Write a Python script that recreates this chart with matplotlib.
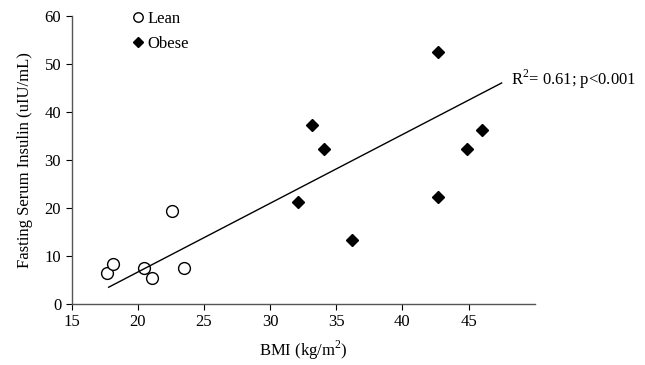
import numpy as np
import matplotlib
matplotlib.use('Agg')
import matplotlib.pyplot as plt

plt.rcParams['font.family'] = 'Liberation Serif'
plt.rcParams['mathtext.fontset'] = 'custom'
plt.rcParams['mathtext.rm'] = 'Liberation Serif'

# values
lean_bmi = [17.7, 18.1, 20.5, 21.1, 22.6, 23.5]
lean_ins = [6.5, 8.4, 7.4, 5.5, 19.4, 7.4]
obese_bmi = [32.1, 33.2, 34.1, 36.2, 42.7, 42.7, 44.9, 46.0]
obese_ins = [21.3, 37.3, 32.3, 13.3, 52.5, 22.3, 32.3, 36.3]
fit_x = [17.8, 47.5]
fit_y = [3.5, 46.0]
x_ticks = [15, 20, 25, 30, 35, 40, 45]
y_ticks = [0, 10, 20, 30, 40, 50, 60]

fig = plt.figure(figsize=(6.45, 3.65), dpi=100)
ax = fig.add_axes([0.111, 0.167, 0.718, 0.790])

ax.plot(lean_bmi, lean_ins, 'o', ms=8.5, mfc='white', mec='black', mew=1.0,
        label='Lean', clip_on=False)
ax.plot(obese_bmi, obese_ins, 'D', ms=6.5, mfc='black', mec='black',
        label='Obese', clip_on=False)
ax.plot(fit_x, fit_y, '-', color='black', lw=1.0)

ax.text(48.2, 46.7, r'R$^2$= 0.61; p<0.001', fontsize=12, va='center', ha='left')

ax.set_xlim(15, 50)
ax.set_ylim(0, 60)
ax.set_xticks(x_ticks)
ax.set_yticks(y_ticks)
for s in ['top', 'right']:
    ax.spines[s].set_visible(False)
for s in ['left', 'bottom']:
    ax.spines[s].set_color('#555555')
    ax.spines[s].set_linewidth(1.0)
ax.tick_params(direction='out', length=4, width=0.8, colors='black', labelsize=12)

ax.set_xlabel(r'BMI (kg/m$^2$)', fontsize=12, labelpad=6)
ax.set_ylabel('Fasting Serum Insulin (uIU/mL)', fontsize=12, labelpad=8)

leg = ax.legend(loc='upper left', bbox_to_anchor=(0.092, 1.07), frameon=False,
                fontsize=12, handletextpad=0.1, labelspacing=0.55,
                handlelength=1.0, markerscale=0.8)

fig.savefig('out.png', dpi=100)
